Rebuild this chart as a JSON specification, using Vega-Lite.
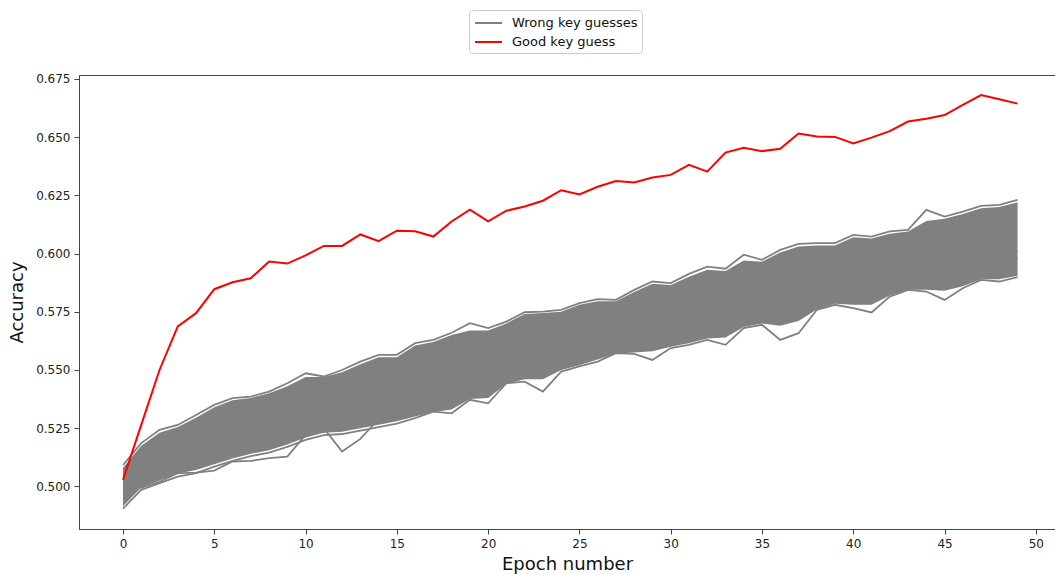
{
  "$schema": "https://vega.github.io/schema/vega-lite/v6.json",
  "width": 976,
  "height": 454,
  "autosize": {"type": "none"},
  "padding": {"left": 79, "top": 75, "right": 0, "bottom": 46},
  "background": "white",
  "config": {
    "font": "DejaVu Sans",
    "view": {"stroke": "#444", "strokeWidth": 1},
    "axis": {"grid": false, "domainColor": "#444", "tickColor": "#444", "tickSize": 5, "labelPadding": 4, "labelFontSize": 12, "labelColor": "#222", "titleFontSize": 18, "titleFontWeight": "normal", "titleColor": "#111", "labelFont": "DejaVu Sans", "titleFont": "DejaVu Sans"},
    "legend": {"symbolType": "M-0.875,0H2.5", "symbolSize": 256, "symbolStrokeWidth": 2, "labelFontSize": 13, "labelColor": "#111", "labelFont": "DejaVu Sans", "padding": 4, "strokeColor": "#cccccc", "fillColor": "#ffffff", "cornerRadius": 3, "rowPadding": 3, "labelOffset": 21}
  },
  "datasets": {
    "band": [
      {"epoch":0,"lo":0.4915,"hi":0.508},{"epoch":1,"lo":0.4995,"hi":0.5175},{"epoch":2,"lo":0.5025,"hi":0.523},{"epoch":3,"lo":0.5055,"hi":0.5255},{"epoch":4,"lo":0.507,"hi":0.5295},
      {"epoch":5,"lo":0.5095,"hi":0.534},{"epoch":6,"lo":0.512,"hi":0.537},{"epoch":7,"lo":0.514,"hi":0.538},{"epoch":8,"lo":0.5155,"hi":0.540},{"epoch":9,"lo":0.518,"hi":0.543},
      {"epoch":10,"lo":0.521,"hi":0.547},{"epoch":11,"lo":0.523,"hi":0.547},{"epoch":12,"lo":0.5235,"hi":0.549},{"epoch":13,"lo":0.525,"hi":0.5525},{"epoch":14,"lo":0.5265,"hi":0.5555},
      {"epoch":15,"lo":0.528,"hi":0.5555},{"epoch":16,"lo":0.530,"hi":0.5605},{"epoch":17,"lo":0.532,"hi":0.562},{"epoch":18,"lo":0.533,"hi":0.565},{"epoch":19,"lo":0.5375,"hi":0.567},
      {"epoch":20,"lo":0.538,"hi":0.567},{"epoch":21,"lo":0.544,"hi":0.570},{"epoch":22,"lo":0.546,"hi":0.574},{"epoch":23,"lo":0.546,"hi":0.5745},{"epoch":24,"lo":0.550,"hi":0.575},
      {"epoch":25,"lo":0.552,"hi":0.578},{"epoch":26,"lo":0.5545,"hi":0.5795},{"epoch":27,"lo":0.557,"hi":0.5795},{"epoch":28,"lo":0.5575,"hi":0.5835},{"epoch":29,"lo":0.558,"hi":0.587},
      {"epoch":30,"lo":0.560,"hi":0.5865},{"epoch":31,"lo":0.5615,"hi":0.590},{"epoch":32,"lo":0.5635,"hi":0.593},{"epoch":33,"lo":0.564,"hi":0.5925},{"epoch":34,"lo":0.5685,"hi":0.597},
      {"epoch":35,"lo":0.570,"hi":0.5965},{"epoch":36,"lo":0.569,"hi":0.6005},{"epoch":37,"lo":0.571,"hi":0.603},{"epoch":38,"lo":0.576,"hi":0.6035},{"epoch":39,"lo":0.5785,"hi":0.6035},
      {"epoch":40,"lo":0.578,"hi":0.607},{"epoch":41,"lo":0.578,"hi":0.6065},{"epoch":42,"lo":0.582,"hi":0.6085},{"epoch":43,"lo":0.5845,"hi":0.6095},{"epoch":44,"lo":0.5845,"hi":0.614},
      {"epoch":45,"lo":0.584,"hi":0.615},{"epoch":46,"lo":0.586,"hi":0.617},{"epoch":47,"lo":0.589,"hi":0.6195},{"epoch":48,"lo":0.589,"hi":0.620},{"epoch":49,"lo":0.5905,"hi":0.622}
    ],
    "wrong": [
      {"line":"top","epoch":0,"accuracy":0.5092},{"line":"top","epoch":1,"accuracy":0.5186},{"line":"top","epoch":2,"accuracy":0.5243},{"line":"top","epoch":3,"accuracy":0.5264},{"line":"top","epoch":4,"accuracy":0.5307},
      {"line":"top","epoch":5,"accuracy":0.535},{"line":"top","epoch":6,"accuracy":0.5379},{"line":"top","epoch":7,"accuracy":0.5386},{"line":"top","epoch":8,"accuracy":0.5407},{"line":"top","epoch":9,"accuracy":0.5443},
      {"line":"top","epoch":10,"accuracy":0.5486},{"line":"top","epoch":11,"accuracy":0.5472},{"line":"top","epoch":12,"accuracy":0.55},{"line":"top","epoch":13,"accuracy":0.5536},{"line":"top","epoch":14,"accuracy":0.5565},
      {"line":"top","epoch":15,"accuracy":0.5565},{"line":"top","epoch":16,"accuracy":0.5615},{"line":"top","epoch":17,"accuracy":0.5629},{"line":"top","epoch":18,"accuracy":0.566},{"line":"top","epoch":19,"accuracy":0.5701},
      {"line":"top","epoch":20,"accuracy":0.568},{"line":"top","epoch":21,"accuracy":0.5708},{"line":"top","epoch":22,"accuracy":0.5748},{"line":"top","epoch":23,"accuracy":0.5751},{"line":"top","epoch":24,"accuracy":0.5758},
      {"line":"top","epoch":25,"accuracy":0.5787},{"line":"top","epoch":26,"accuracy":0.5804},{"line":"top","epoch":27,"accuracy":0.5801},{"line":"top","epoch":28,"accuracy":0.5844},{"line":"top","epoch":29,"accuracy":0.588},
      {"line":"top","epoch":30,"accuracy":0.5873},{"line":"top","epoch":31,"accuracy":0.5913},{"line":"top","epoch":32,"accuracy":0.5944},{"line":"top","epoch":33,"accuracy":0.5935},{"line":"top","epoch":34,"accuracy":0.5995},
      {"line":"top","epoch":35,"accuracy":0.5973},{"line":"top","epoch":36,"accuracy":0.6016},{"line":"top","epoch":37,"accuracy":0.6042},{"line":"top","epoch":38,"accuracy":0.6045},{"line":"top","epoch":39,"accuracy":0.6045},
      {"line":"top","epoch":40,"accuracy":0.608},{"line":"top","epoch":41,"accuracy":0.6073},{"line":"top","epoch":42,"accuracy":0.6095},{"line":"top","epoch":43,"accuracy":0.6102},{"line":"top","epoch":44,"accuracy":0.6188},
      {"line":"top","epoch":45,"accuracy":0.6159},{"line":"top","epoch":46,"accuracy":0.618},{"line":"top","epoch":47,"accuracy":0.6205},{"line":"top","epoch":48,"accuracy":0.6209},{"line":"top","epoch":49,"accuracy":0.6231},

      {"line":"bottom","epoch":0,"accuracy":0.4905},{"line":"bottom","epoch":1,"accuracy":0.4985},{"line":"bottom","epoch":2,"accuracy":0.5014},{"line":"bottom","epoch":3,"accuracy":0.5042},{"line":"bottom","epoch":4,"accuracy":0.5057},
      {"line":"bottom","epoch":5,"accuracy":0.5085},{"line":"bottom","epoch":6,"accuracy":0.511},{"line":"bottom","epoch":7,"accuracy":0.513},{"line":"bottom","epoch":8,"accuracy":0.5145},{"line":"bottom","epoch":9,"accuracy":0.517},
      {"line":"bottom","epoch":10,"accuracy":0.52},{"line":"bottom","epoch":11,"accuracy":0.522},{"line":"bottom","epoch":12,"accuracy":0.5225},{"line":"bottom","epoch":13,"accuracy":0.524},{"line":"bottom","epoch":14,"accuracy":0.5255},
      {"line":"bottom","epoch":15,"accuracy":0.527},{"line":"bottom","epoch":16,"accuracy":0.5293},{"line":"bottom","epoch":17,"accuracy":0.5321},{"line":"bottom","epoch":18,"accuracy":0.5314},{"line":"bottom","epoch":19,"accuracy":0.5372},
      {"line":"bottom","epoch":20,"accuracy":0.5357},{"line":"bottom","epoch":21,"accuracy":0.5443},{"line":"bottom","epoch":22,"accuracy":0.545},{"line":"bottom","epoch":23,"accuracy":0.5407},{"line":"bottom","epoch":24,"accuracy":0.5493},
      {"line":"bottom","epoch":25,"accuracy":0.5515},{"line":"bottom","epoch":26,"accuracy":0.5536},{"line":"bottom","epoch":27,"accuracy":0.5572},{"line":"bottom","epoch":28,"accuracy":0.5569},{"line":"bottom","epoch":29,"accuracy":0.5543},
      {"line":"bottom","epoch":30,"accuracy":0.5594},{"line":"bottom","epoch":31,"accuracy":0.5608},{"line":"bottom","epoch":32,"accuracy":0.5629},{"line":"bottom","epoch":33,"accuracy":0.5608},{"line":"bottom","epoch":34,"accuracy":0.568},
      {"line":"bottom","epoch":35,"accuracy":0.5694},{"line":"bottom","epoch":36,"accuracy":0.5629},{"line":"bottom","epoch":37,"accuracy":0.5658},{"line":"bottom","epoch":38,"accuracy":0.5758},{"line":"bottom","epoch":39,"accuracy":0.578},
      {"line":"bottom","epoch":40,"accuracy":0.5766},{"line":"bottom","epoch":41,"accuracy":0.5747},{"line":"bottom","epoch":42,"accuracy":0.5815},{"line":"bottom","epoch":43,"accuracy":0.5844},{"line":"bottom","epoch":44,"accuracy":0.5837},
      {"line":"bottom","epoch":45,"accuracy":0.5801},{"line":"bottom","epoch":46,"accuracy":0.5851},{"line":"bottom","epoch":47,"accuracy":0.5887},{"line":"bottom","epoch":48,"accuracy":0.588},{"line":"bottom","epoch":49,"accuracy":0.5899},

      {"line":"low1","epoch":0,"accuracy":0.497},{"line":"low1","epoch":1,"accuracy":0.4995},{"line":"low1","epoch":2,"accuracy":0.502},{"line":"low1","epoch":3,"accuracy":0.5057},{"line":"low1","epoch":4,"accuracy":0.5059},
      {"line":"low1","epoch":5,"accuracy":0.5068},{"line":"low1","epoch":6,"accuracy":0.5107},{"line":"low1","epoch":7,"accuracy":0.511},{"line":"low1","epoch":8,"accuracy":0.5121},{"line":"low1","epoch":9,"accuracy":0.5128},
      {"line":"low1","epoch":10,"accuracy":0.5221},{"line":"low1","epoch":11,"accuracy":0.5235},{"line":"low1","epoch":12,"accuracy":0.526},{"line":"low1","epoch":13,"accuracy":0.527},{"line":"low1","epoch":14,"accuracy":0.5293},
      {"line":"low1","epoch":15,"accuracy":0.5293},{"line":"low1","epoch":16,"accuracy":0.5314},{"line":"low1","epoch":17,"accuracy":0.5326},{"line":"low1","epoch":18,"accuracy":0.541},{"line":"low1","epoch":19,"accuracy":0.543},
      {"line":"low1","epoch":20,"accuracy":0.545},{"line":"low1","epoch":21,"accuracy":0.548},{"line":"low1","epoch":22,"accuracy":0.550},{"line":"low1","epoch":23,"accuracy":0.551},{"line":"low1","epoch":24,"accuracy":0.553},
      {"line":"low1","epoch":25,"accuracy":0.556},{"line":"low1","epoch":26,"accuracy":0.558},{"line":"low1","epoch":27,"accuracy":0.560},{"line":"low1","epoch":28,"accuracy":0.562},{"line":"low1","epoch":29,"accuracy":0.563},
      {"line":"low1","epoch":30,"accuracy":0.565},{"line":"low1","epoch":31,"accuracy":0.567},{"line":"low1","epoch":32,"accuracy":0.569},{"line":"low1","epoch":33,"accuracy":0.570},{"line":"low1","epoch":34,"accuracy":0.573},
      {"line":"low1","epoch":35,"accuracy":0.575},{"line":"low1","epoch":36,"accuracy":0.576},{"line":"low1","epoch":37,"accuracy":0.578},{"line":"low1","epoch":38,"accuracy":0.580},{"line":"low1","epoch":39,"accuracy":0.582},
      {"line":"low1","epoch":40,"accuracy":0.583},{"line":"low1","epoch":41,"accuracy":0.584},{"line":"low1","epoch":42,"accuracy":0.587},{"line":"low1","epoch":43,"accuracy":0.589},{"line":"low1","epoch":44,"accuracy":0.590},
      {"line":"low1","epoch":45,"accuracy":0.591},{"line":"low1","epoch":46,"accuracy":0.593},{"line":"low1","epoch":47,"accuracy":0.595},{"line":"low1","epoch":48,"accuracy":0.596},{"line":"low1","epoch":49,"accuracy":0.598},

      {"line":"low2","epoch":0,"accuracy":0.500},{"line":"low2","epoch":1,"accuracy":0.503},{"line":"low2","epoch":2,"accuracy":0.507},{"line":"low2","epoch":3,"accuracy":0.510},{"line":"low2","epoch":4,"accuracy":0.513},
      {"line":"low2","epoch":5,"accuracy":0.515},{"line":"low2","epoch":6,"accuracy":0.517},{"line":"low2","epoch":7,"accuracy":0.518},{"line":"low2","epoch":8,"accuracy":0.519},{"line":"low2","epoch":9,"accuracy":0.521},
      {"line":"low2","epoch":10,"accuracy":0.524},{"line":"low2","epoch":11,"accuracy":0.525},{"line":"low2","epoch":12,"accuracy":0.515},{"line":"low2","epoch":13,"accuracy":0.5204},{"line":"low2","epoch":14,"accuracy":0.5289},
      {"line":"low2","epoch":15,"accuracy":0.533},{"line":"low2","epoch":16,"accuracy":0.540},{"line":"low2","epoch":17,"accuracy":0.542},{"line":"low2","epoch":18,"accuracy":0.544},{"line":"low2","epoch":19,"accuracy":0.546},
      {"line":"low2","epoch":20,"accuracy":0.548},{"line":"low2","epoch":21,"accuracy":0.551},{"line":"low2","epoch":22,"accuracy":0.553},{"line":"low2","epoch":23,"accuracy":0.554},{"line":"low2","epoch":24,"accuracy":0.556},
      {"line":"low2","epoch":25,"accuracy":0.559},{"line":"low2","epoch":26,"accuracy":0.561},{"line":"low2","epoch":27,"accuracy":0.563},{"line":"low2","epoch":28,"accuracy":0.565},{"line":"low2","epoch":29,"accuracy":0.566},
      {"line":"low2","epoch":30,"accuracy":0.568},{"line":"low2","epoch":31,"accuracy":0.570},{"line":"low2","epoch":32,"accuracy":0.572},{"line":"low2","epoch":33,"accuracy":0.573},{"line":"low2","epoch":34,"accuracy":0.576},
      {"line":"low2","epoch":35,"accuracy":0.578},{"line":"low2","epoch":36,"accuracy":0.579},{"line":"low2","epoch":37,"accuracy":0.581},{"line":"low2","epoch":38,"accuracy":0.583},{"line":"low2","epoch":39,"accuracy":0.585},
      {"line":"low2","epoch":40,"accuracy":0.586},{"line":"low2","epoch":41,"accuracy":0.587},{"line":"low2","epoch":42,"accuracy":0.590},{"line":"low2","epoch":43,"accuracy":0.592},{"line":"low2","epoch":44,"accuracy":0.593},
      {"line":"low2","epoch":45,"accuracy":0.594},{"line":"low2","epoch":46,"accuracy":0.596},{"line":"low2","epoch":47,"accuracy":0.598},{"line":"low2","epoch":48,"accuracy":0.599},{"line":"low2","epoch":49,"accuracy":0.601}
    ],
    "good": [
      {"epoch":0,"accuracy":0.5028},{"epoch":1,"accuracy":0.5264},{"epoch":2,"accuracy":0.5500},{"epoch":3,"accuracy":0.5687},{"epoch":4,"accuracy":0.5744},
      {"epoch":5,"accuracy":0.5847},{"epoch":6,"accuracy":0.5877},{"epoch":7,"accuracy":0.5894},{"epoch":8,"accuracy":0.5966},{"epoch":9,"accuracy":0.5957},
      {"epoch":10,"accuracy":0.5992},{"epoch":11,"accuracy":0.6033},{"epoch":12,"accuracy":0.6033},{"epoch":13,"accuracy":0.6082},{"epoch":14,"accuracy":0.6053},
      {"epoch":15,"accuracy":0.6098},{"epoch":16,"accuracy":0.6096},{"epoch":17,"accuracy":0.6073},{"epoch":18,"accuracy":0.6138},{"epoch":19,"accuracy":0.6189},
      {"epoch":20,"accuracy":0.6138},{"epoch":21,"accuracy":0.6184},{"epoch":22,"accuracy":0.6202},{"epoch":23,"accuracy":0.6227},{"epoch":24,"accuracy":0.6272},
      {"epoch":25,"accuracy":0.6254},{"epoch":26,"accuracy":0.6287},{"epoch":27,"accuracy":0.6312},{"epoch":28,"accuracy":0.6305},{"epoch":29,"accuracy":0.6327},
      {"epoch":30,"accuracy":0.6338},{"epoch":31,"accuracy":0.6381},{"epoch":32,"accuracy":0.6352},{"epoch":33,"accuracy":0.6434},{"epoch":34,"accuracy":0.6454},
      {"epoch":35,"accuracy":0.6440},{"epoch":36,"accuracy":0.6450},{"epoch":37,"accuracy":0.6516},{"epoch":38,"accuracy":0.6503},{"epoch":39,"accuracy":0.6501},
      {"epoch":40,"accuracy":0.6473},{"epoch":41,"accuracy":0.6498},{"epoch":42,"accuracy":0.6526},{"epoch":43,"accuracy":0.6567},{"epoch":44,"accuracy":0.6579},
      {"epoch":45,"accuracy":0.6595},{"epoch":46,"accuracy":0.6639},{"epoch":47,"accuracy":0.6681},{"epoch":48,"accuracy":0.6663},{"epoch":49,"accuracy":0.6644}
    ]
  },
  "encoding": {
    "x": {"field": "epoch", "type": "quantitative", "title": "Epoch number",
          "scale": {"domain": [-2.41, 51.05], "nice": false, "zero": false},
          "axis": {"values": [0, 5, 10, 15, 20, 25, 30, 35, 40, 45, 50], "titlePadding": 6}}
  },
  "layer": [
    {
      "data": {"name": "band"},
      "mark": {"type": "area", "color": "#808080", "opacity": 1},
      "encoding": {
        "y": {"field": "lo", "type": "quantitative", "title": "Accuracy",
              "scale": {"domain": [0.4817, 0.6767], "nice": false, "zero": false},
              "axis": {"values": [0.5, 0.525, 0.55, 0.575, 0.6, 0.625, 0.65, 0.675], "format": ".3f", "titlePadding": 9}},
        "y2": {"field": "hi"}
      }
    },
    {
      "data": {"name": "wrong"},
      "mark": {"type": "line", "strokeWidth": 1.8, "strokeJoin": "miter"},
      "encoding": {
        "y": {"field": "accuracy", "type": "quantitative", "title": "Accuracy"},
        "detail": {"field": "line"},
        "color": {"datum": "Wrong key guesses",
                  "scale": {"domain": ["Wrong key guesses", "Good key guess"], "range": ["#808080", "#ff0000"]},
                  "legend": {"title": null, "orient": "none", "legendX": 390, "legendY": -65}}
      }
    },
    {
      "data": {"name": "good"},
      "mark": {"type": "line", "strokeWidth": 2},
      "encoding": {
        "y": {"field": "accuracy", "type": "quantitative", "title": "Accuracy"},
        "color": {"datum": "Good key guess"}
      }
    }
  ]
}
